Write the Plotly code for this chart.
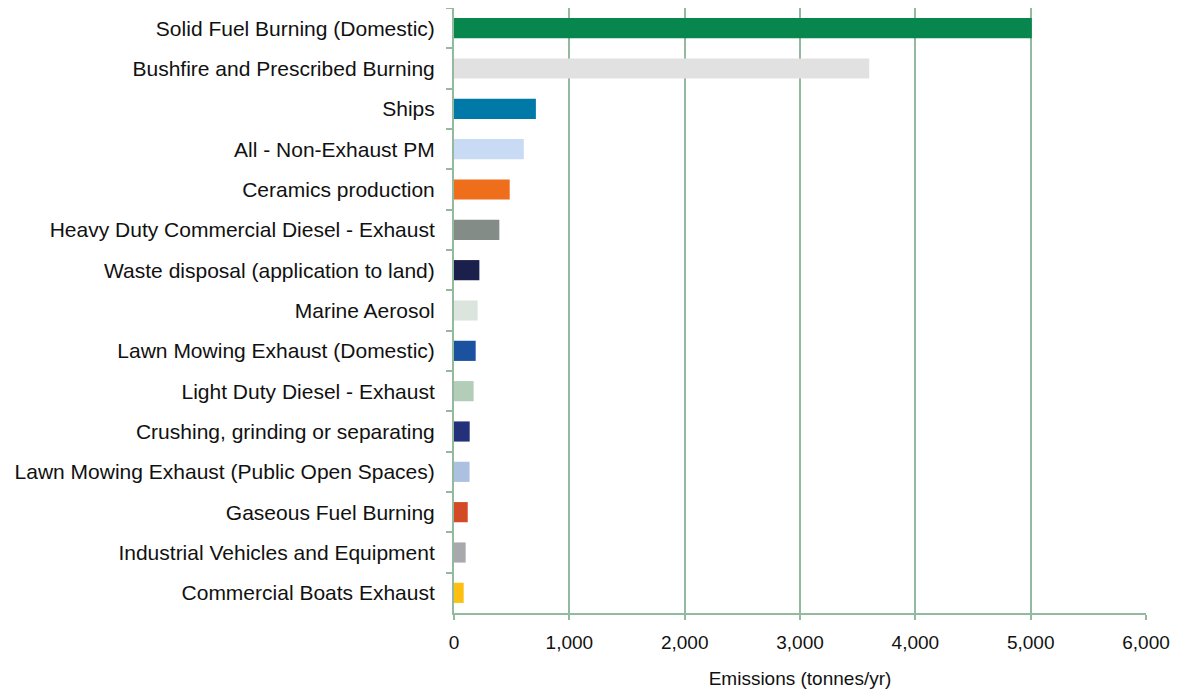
import plotly.graph_objects as go

categories = [
    "Solid Fuel Burning (Domestic)",
    "Bushfire and Prescribed Burning",
    "Ships",
    "All - Non-Exhaust PM",
    "Ceramics production",
    "Heavy Duty Commercial Diesel - Exhaust",
    "Waste disposal (application to land)",
    "Marine Aerosol",
    "Lawn Mowing Exhaust (Domestic)",
    "Light Duty Diesel - Exhaust",
    "Crushing, grinding or separating",
    "Lawn Mowing Exhaust (Public Open Spaces)",
    "Gaseous Fuel Burning",
    "Industrial Vehicles and Equipment",
    "Commercial Boats Exhaust",
]
emissions = [5010, 3600, 710, 605, 483, 393, 220, 205, 188, 170, 136, 135, 119, 101, 84]
bar_colors = [
    "#07874d", "#e0e1e0", "#0079a8", "#c9daf4", "#ee6e1c",
    "#848c88", "#1a1f4c", "#dbe5de", "#1b52a0", "#b3cdb8",
    "#25307a", "#abc1df", "#d24a26", "#a8a9ad", "#fdc010",
]

grid = "#93b99f"

fig = go.Figure(go.Bar(
    x=emissions, y=categories, orientation="h",
    marker=dict(color=bar_colors, line_width=0),
    width=0.5,
))

# page body has an 8px margin, so the figure is sized to fit inside the window
fig.update_layout(
    width=1165, height=682,
    margin=dict(l=446, r=27, t=0, b=77),
    plot_bgcolor="white", paper_bgcolor="white",
    font=dict(family="Liberation Sans, Arial", size=21, color="#111111"),
    showlegend=False,
)
fig.update_xaxes(
    range=[0, 6000], tickvals=[0, 1000, 2000, 3000, 4000, 5000, 6000],
    tickformat=",d", showgrid=True, gridcolor=grid, gridwidth=2,
    zeroline=False, showline=True, linecolor=grid, linewidth=2,
    ticks="outside", tickcolor=grid, ticklen=5, tickwidth=2,
    tickfont=dict(size=19), ticklabelstandoff=6,
    title=dict(text="Emissions (tonnes/yr)", font=dict(size=19), standoff=20),
    fixedrange=True,
)
fig.update_yaxes(
    autorange="reversed", showline=True, linecolor=grid, linewidth=2,
    ticks="outside", tickson="boundaries", tickcolor=grid, ticklen=6, tickwidth=2,
    ticklabelstandoff=13, showgrid=False, fixedrange=True,
)

fig.write_html("out.html")
